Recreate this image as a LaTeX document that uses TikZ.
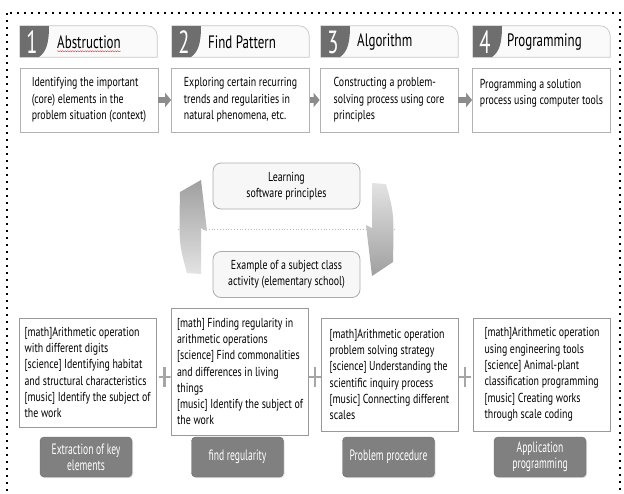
\documentclass[tikz,border=0pt]{standalone}
\usepackage{fontspec}
\setmainfont[FakeStretch=0.76]{PT Sans}
\newfontfamily\titlefont[FakeStretch=0.72]{PT Sans}
\newfontfamily\buttonfont[FakeStretch=0.64]{PT Sans}
\usetikzlibrary{arrows.meta,positioning,shadows,decorations.pathmorphing}

\begin{document}
\begin{tikzpicture}[x=1pt, y=-1pt,
    frame/.style={line width=2.4pt, dash pattern=on 2.4pt off 4.6pt},
    tabbox/.style={rectangle, minimum width=137pt, minimum height=31pt, inner sep=0pt},
    tabline/.style={draw=gray!45, fill=gray!4, line width=0.7pt},
    badge/.style={fill=black!57},
    num/.style={text=white, font=\buttonfont\fontsize{32}{32}\selectfont, inner sep=0pt},
    title/.style={anchor=west, font=\titlefont\fontsize{18}{20}\selectfont, inner sep=0pt},
    desc/.style={rectangle, draw=gray!60, line width=0.7pt, fill=white, minimum width=138pt, minimum height=64pt, align=left, inner sep=4pt, font=\fontsize{13}{16.5}\selectfont},
    flow/.style={line width=6pt, black!45, -{Triangle[length=6pt, width=14pt]}},
    principle/.style={rectangle, rounded corners=8pt, draw=gray!65, line width=0.8pt, fill=gray!6, minimum width=147pt, minimum height=46pt, align=center, font=\fontsize{13}{16.5}\selectfont},
    sep/.style={gray!55, dotted, line width=0.8pt},
    example/.style={rectangle, draw=gray!80, line width=0.7pt, fill=white, minimum width=137pt, align=left, inner sep=4pt, font=\fontsize{13}{16.3}\selectfont},
    plus/.style={minimum width=12pt, minimum height=20pt, inner sep=0pt, path picture={\draw[black!35, line width=2.8pt] (path picture bounding box.north) -- (path picture bounding box.south) (path picture bounding box.west) -- (path picture bounding box.east);}},
    button/.style={rectangle, rounded corners=4pt, fill=black!50, draw=black!58, text=white, minimum width=92pt, minimum height=40pt, align=center, inner sep=2pt, font=\buttonfont\fontsize{15}{16}\selectfont, drop shadow={opacity=0.25, shadow xshift=1pt, shadow yshift=-1.2pt}}
]
    \useasboundingbox (0,0) rectangle (624,493);
    \draw[frame] (7,13) rectangle (620,498);

    \node[tabbox] (tab1) at (88.5,41.5) {};
    \node[tabbox] (tab2) at (240.5,41.5) {};
    \node[tabbox] (tab3) at (389.5,41.5) {};
    \node[tabbox] (tab4) at (541.5,41.5) {};
    \draw[tabline] (tab1.south west) -- (tab1.north west) -- ([xshift=-10pt]tab1.north east) arc[start angle=90, end angle=0, radius=10pt] -- (tab1.south east) -- cycle;
    \draw[tabline] (tab2.south west) -- (tab2.north west) -- ([xshift=-10pt]tab2.north east) arc[start angle=90, end angle=0, radius=10pt] -- (tab2.south east) -- cycle;
    \draw[tabline] (tab3.south west) -- (tab3.north west) -- ([xshift=-10pt]tab3.north east) arc[start angle=90, end angle=0, radius=10pt] -- (tab3.south east) -- cycle;
    \draw[tabline] (tab4.south west) -- (tab4.north west) -- ([xshift=-10pt]tab4.north east) arc[start angle=90, end angle=0, radius=10pt] -- (tab4.south east) -- cycle;
    \fill[badge] (20,26) -- (49,26) .. controls (49,44) and (46,52) .. (39,57) -- (20,57) -- cycle;
    \fill[badge] (172,26) -- (201,26) .. controls (201,44) and (198,52) .. (191,57) -- (172,57) -- cycle;
    \fill[badge] (321,26) -- (350,26) .. controls (350,44) and (347,52) .. (340,57) -- (321,57) -- cycle;
    \fill[badge] (473,26) -- (502,26) .. controls (502,44) and (499,52) .. (492,57) -- (473,57) -- cycle;
    \node[num] (n1) at (32,42) {1};
    \node[num] (n2) at (184,42) {2};
    \node[num] (n3) at (333,42) {3};
    \node[num] (n4) at (485,42) {4};
    \node[title] (ti1) at (57,42) {Abstruction};
    \node[title] (ti2) at (208,42) {Find Pattern};
    \node[title] (ti3) at (357,42) {Algorithm};
    \node[title] (ti4) at (507,42) {Programming};
    \draw[red!75, line width=0.5pt, decorate, decoration={snake, amplitude=0.5pt, segment length=2.5pt}] ([yshift=-2.5pt]ti1.south west) -- ([yshift=-2.5pt]ti1.south east);

    \node[desc] (d1) at (89,100) {Identifying the important\\(core) elements in the\\problem situation (context)};
    \node[desc] (d2) at (240.5,100) {Exploring certain recurring\\trends and regularities in\\natural phenomena, etc.};
    \node[desc] (d3) at (389,100) {Constructing a problem-\\solving process using core\\principles};
    \node[desc] (d4) at (541.5,100) {Programming a solution\\process using computer tools\\~};
    \draw[flow] (d1) -- (d2);
    \draw[flow] (d2) -- (d3);
    \draw[flow] (d3) -- (d4);

    \node[principle] (learn) at (286.5,186) {Learning\\software principles};
    \node[principle] (subject) at (286.5,274.5) {Example of a subject class\\activity (elementary school)};
    \coordinate (sepL) at (178,229);
    \coordinate (sepR) at (395,229);
    \draw[sep] (sepL) -- (sepR);
    \shade[top color=gray!75, bottom color=gray!22] (201,274) -- (187,273) .. controls (179,244) .. (180,192) -- (201,180) -- (207,231) -- (201,228) -- cycle;
    \shade[top color=gray!22, bottom color=gray!75] (372,183) -- (386,184) .. controls (394,213) .. (393,262) -- (372,276) -- (366,225) -- (372,228) -- cycle;

    \node[example, minimum height=109pt] (exA) at (87.5,372.5) {{[math]}Arithmetic operation\\with different digits\\{[science]} Identifying habitat\\and structural characteristics\\{[music]} Identify the subject of\\the work};
    \node[example, minimum height=127pt] (exB) at (240,371.5) {{[math]} Finding regularity in\\arithmetic operations\\{[science]} Find commonalities\\and differences in living\\things\\{[music]} Identify the subject of\\the work};
    \node[example, minimum height=113pt] (exC) at (389.5,374.5) {{[math]}Arithmetic operation\\problem solving strategy\\{[science]} Understanding the\\scientific inquiry process\\{[music]} Connecting different\\scales};
    \node[example, minimum height=113pt] (exD) at (542,374.5) {{[math]}Arithmetic operation\\using engineering tools\\{[science]} Animal-plant\\classification programming\\{[music]} Creating works\\through scale coding};
    \node[plus] (p1) at (164.5,377) {};
    \node[plus] (p2) at (315,377) {};
    \node[plus] (p3) at (465,377) {};

    \node[button] (b1) at (86,457) {Extraction of key\\elements};
    \node[button] (b2) at (237.5,457) {find regularity};
    \node[button] (b3) at (388.5,457) {Problem procedure};
    \node[button] (b4) at (540,457) {Application\\programming};
\end{tikzpicture}
\end{document}
